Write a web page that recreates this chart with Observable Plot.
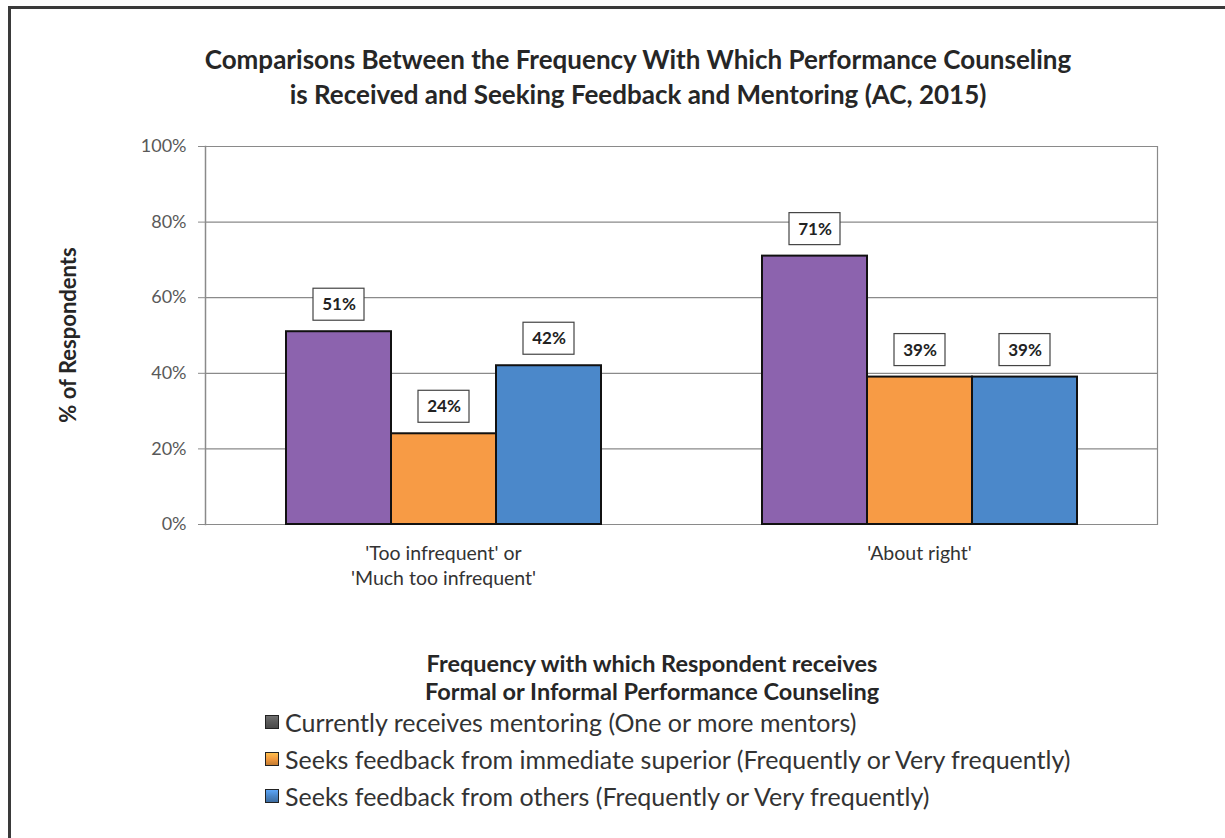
<!DOCTYPE html>
<html>
<head>
<meta charset="utf-8">
<script src="https://cdn.jsdelivr.net/npm/d3@7"></script>
<script src="https://cdn.jsdelivr.net/npm/@observablehq/plot@0.6"></script>
<style>
  html, body { margin: 0; padding: 0; background: #fff; }
  #wrap { position: relative; width: 1225px; height: 838px; overflow: hidden; font-family: Lato, "Open Sans", sans-serif; color: #262626; }
  #border { position: absolute; left: 8px; top: 6px; width: 1400px; height: 1000px; border-left: 3px solid #3a3a3a; border-top: 3px solid #3a3a3a; }
  #chart { position: absolute; left: 0; top: 0; }
  .title { position: absolute; left: 0; width: 1276px; text-align: center; font-weight: bold; font-size: 26px; line-height: 35px; top: 42px; color: #262626; }
  .ytitle { position: absolute; left: 67px; top: 335px; transform: translate(-50%, -50%) rotate(-90deg); white-space: nowrap; font-weight: bold; font-size: 22px; color: #262626; }
  .xtitle { position: absolute; left: 0; width: 1304px; text-align: center; font-weight: bold; font-size: 23.5px; line-height: 28px; top: 649px; color: #262626; }
  .legend { position: absolute; left: 265px; top: 703px; font-size: 25px; color: #333; }
  .legend .row { height: 37px; line-height: 30px; display: flex; align-items: center; white-space: nowrap; }
  .legend .sw { width: 12px; height: 12px; border: 1.5px solid #222; margin-right: 6px; flex: none; }
</style>
</head>
<body>
<div id="wrap">
  <div id="border"></div>
  <div id="chart"></div>
  <div class="title" id="title"></div>
  <div class="ytitle" id="ytitle"></div>
  <div class="xtitle" id="xtitle"></div>
  <div class="legend" id="legend"></div>
</div>
<script>
// ---- data ----
const categories = ["'Too infrequent' or\n'Much too infrequent'", "'About right'"];
const series = [
  "Currently receives mentoring (One or more mentors)",
  "Seeks feedback from immediate superior (Frequently or Very frequently)",
  "Seeks feedback from others (Frequently or Very frequently)"
];
const mentoringValues = [51, 71];
const superiorValues = [24, 39];
const othersValues = [42, 39];
const yTicks = [0, 20, 40, 60, 80, 100];
const titleLines = ["Comparisons Between the Frequency With Which Performance Counseling", "is Received and Seeking Feedback and Mentoring (AC, 2015)"];
const yTitle = "% of Respondents";
const xTitleLines = ["Frequency with which Respondent receives", "Formal or Informal Performance Counseling"];

// ---- styles ----
const barColors = ["#8c63ae", "#f79b45", "#4b88ca"];
const legendColors = ["#5a5a5a", "#f29a3e", "#4a86c8"];

const valuesBySeries = [mentoringValues, superiorValues, othersValues];
const rows = [];
categories.forEach((c, ci) => series.forEach((s, si) => rows.push({cat: c, series: s, value: valuesBySeries[si][ci]})));

const chart = Plot.plot({
  width: 1225,
  height: 838,
  marginLeft: 205,
  marginRight: 68,
  marginTop: 146,
  marginBottom: 314,
  style: {fontFamily: "Lato, 'Open Sans', sans-serif", background: "transparent"},
  fx: {domain: categories, padding: 0, axis: null},
  x: {domain: series, paddingInner: 0, paddingOuter: 0.75, axis: null},
  y: {domain: [0, 100], axis: null},
  color: {domain: series, range: barColors},
  marks: [
    Plot.gridY({ticks: yTicks.filter(t => t > 0), stroke: "#8a8a8a", strokeOpacity: 1, strokeWidth: 1.2}),
    Plot.frame({anchor: "left", facetAnchor: "left", stroke: "#8a8a8a", strokeWidth: 1.5}),
    Plot.frame({anchor: "right", facetAnchor: "right", stroke: "#8a8a8a", strokeWidth: 1.2}),
    Plot.ruleY([0], {stroke: "#8a8a8a", strokeWidth: 1.2}),
    Plot.axisY({ticks: yTicks, tickSize: 7, tickPadding: 12, tickFormat: d => d + "%", fontSize: 18, fill: "#595959", stroke: "#8a8a8a", label: null}),
    Plot.axisFx({anchor: "bottom", tickSize: 0, tickPadding: 17, fontSize: 19.5, fill: "#333", lineHeight: 1.3, label: null}),
    Plot.barY(rows, {fx: "cat", x: "series", y: "value", fill: "series", stroke: "#111", strokeWidth: 2}),
    Plot.barY(rows, {fx: "cat", x: "series", y1: "value", y2: "value", insetTop: -43, insetBottom: 11, insetLeft: 27, insetRight: 27, fill: "white", stroke: "#444", strokeWidth: 1.2}),
    Plot.text(rows, {fx: "cat", x: "series", y: "value", text: d => d.value + "%", dy: -27, fontSize: 17, fontWeight: "bold", fill: "#222"})
  ]
});
document.getElementById("chart").appendChild(chart);

document.getElementById("title").innerHTML = titleLines.join("<br>");
document.getElementById("ytitle").textContent = yTitle;
document.getElementById("xtitle").innerHTML = xTitleLines.join("<br>");
const legend = document.getElementById("legend");
series.forEach((s, i) => {
  const row = document.createElement("div");
  row.className = "row";
  const sw = document.createElement("span");
  sw.className = "sw";
  sw.style.background = `linear-gradient(to bottom, ${d3.color(legendColors[i]).brighter(0.6)}, ${legendColors[i]} 50%, ${d3.color(legendColors[i]).darker(0.6)})`;
  const t = document.createElement("span");
  t.textContent = s;
  row.appendChild(sw);
  row.appendChild(t);
  legend.appendChild(row);
});
</script>
</body>
</html>
